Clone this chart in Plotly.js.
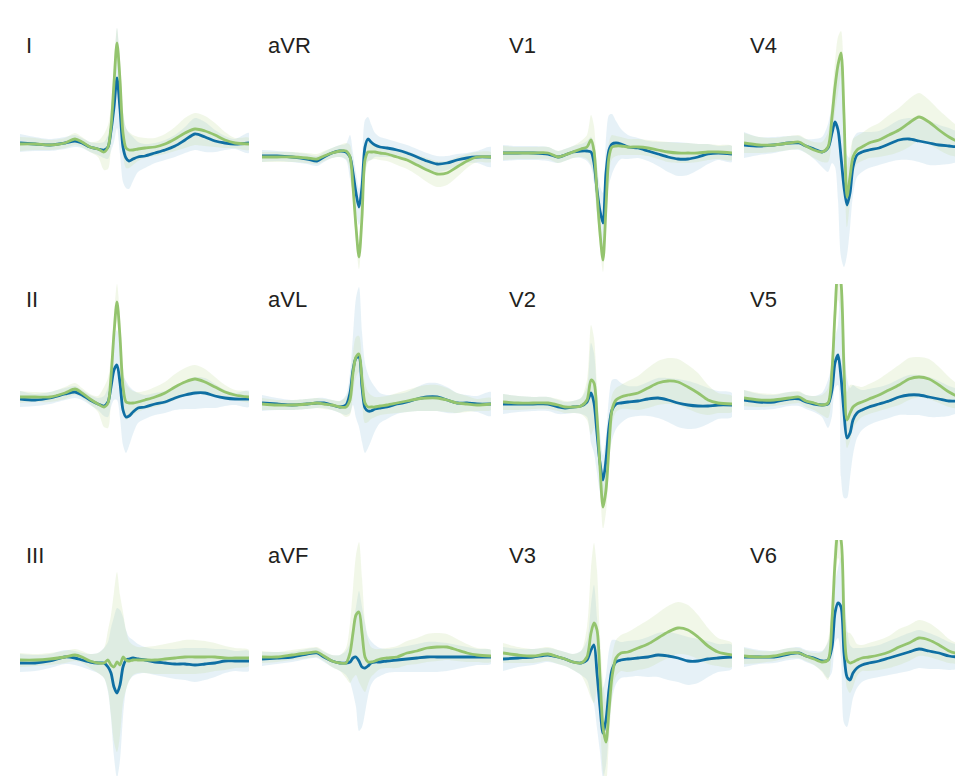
<!DOCTYPE html>
<html>
<head>
<meta charset="utf-8">
<script src="https://cdn.plot.ly/plotly-3.0.1.min.js"></script>
<style>html,body{margin:0;padding:0;background:#fff;}#chart{width:955px;height:776px;}</style>
</head>
<body>
<div id="chart"></div>
<script>
// time grid (ms) shared by every lead
const timeMs = [0,60,120,180,220,248,280,312,336,352,364,376,388,400,412,424,436,452,472,500,540,580,620,660,700,740,780,820,860,916];

// lead names in grid order (row-major, 3 rows x 4 columns)
const leadNames = ['I','aVR','V1','V4','II','aVL','V2','V5','III','aVF','V3','V6'];

// mean waveforms (mV): blue group and green group
const blue_I   = [0.02,0.01,0.0,0.02,0.04,0.02,-0.02,-0.04,-0.05,-0.02,0.14,0.38,0.67,0.36,-0.02,-0.13,-0.16,-0.14,-0.12,-0.11,-0.08,-0.05,-0.01,0.05,0.11,0.08,0.04,0.02,0.01,0.02];
const green_I  = [0.01,0.01,0,0.02,0.06,0.03,-0.02,-0.04,-0.07,-0.02,0.18,0.62,1.02,0.65,0.12,-0.03,-0.05,-0.05,-0.04,-0.03,-0.02,0.01,0.06,0.12,0.16,0.14,0.10,0.05,0.02,0.01];
const blue_aVR = [-0.11,-0.11,-0.12,-0.14,-0.16,-0.12,-0.08,-0.06,-0.07,-0.12,-0.28,-0.48,-0.62,-0.42,-0.02,0.06,0.03,0,-0.02,-0.03,-0.05,-0.08,-0.12,-0.16,-0.19,-0.18,-0.15,-0.13,-0.12,-0.12];
const green_aVR= [-0.12,-0.12,-0.12,-0.13,-0.14,-0.11,-0.08,-0.06,-0.06,-0.12,-0.42,-0.82,-1.12,-0.72,-0.15,-0.07,-0.07,-0.07,-0.08,-0.09,-0.12,-0.15,-0.2,-0.25,-0.29,-0.28,-0.22,-0.16,-0.12,-0.12];
const blue_V1  = [-0.08,-0.08,-0.08,-0.09,-0.12,-0.1,-0.07,-0.06,-0.06,-0.07,-0.18,-0.45,-0.66,-0.78,-0.28,-0.05,0.01,0.02,0.01,-0.02,-0.03,-0.06,-0.09,-0.12,-0.14,-0.14,-0.12,-0.09,-0.08,-0.09];
const green_V1 = [-0.08,-0.08,-0.08,-0.08,-0.12,-0.1,-0.07,-0.04,-0.02,0.05,-0.06,-0.48,-0.88,-1.15,-0.62,-0.12,-0.02,-0.01,-0.01,-0.02,-0.02,-0.03,-0.05,-0.07,-0.08,-0.08,-0.08,-0.07,-0.07,-0.08];
const blue_V4  = [0,-0.01,0,0.02,0.02,-0.01,-0.04,-0.07,-0.03,0.12,0.23,0.15,-0.12,-0.42,-0.6,-0.48,-0.22,-0.1,-0.07,-0.05,-0.03,0.01,0.05,0.06,0.04,0.02,0,-0.01,-0.02,-0.02];
const green_V4 = [0.02,0,0,0.02,0.03,-0.01,-0.05,-0.07,-0.02,0.28,0.58,0.8,0.92,0.3,-0.52,-0.32,-0.12,-0.05,-0.02,0.02,0.05,0.1,0.15,0.22,0.28,0.23,0.15,0.08,0.03,0];
const blue_II  = [0.02,0.01,0.03,0.07,0.09,0.06,0.01,-0.03,-0.05,-0.01,0.14,0.31,0.36,0.18,-0.09,-0.16,-0.15,-0.11,-0.07,-0.06,-0.03,-0.01,0.03,0.06,0.08,0.08,0.05,0.03,0.02,0.02];
const green_II = [0.04,0.04,0.04,0.08,0.12,0.08,0.02,-0.03,-0.06,-0.02,0.24,0.68,0.99,0.64,0.14,-0.01,-0.02,-0.02,-0.01,0.01,0.04,0.08,0.14,0.19,0.22,0.19,0.14,0.09,0.06,0.04];
const blue_aVL = [-0.02,-0.03,-0.04,-0.03,-0.02,-0.02,-0.04,-0.06,-0.04,0.08,0.31,0.43,0.44,0.14,-0.07,-0.1,-0.1,-0.08,-0.07,-0.06,-0.03,-0.01,0.02,0.04,0.04,0.01,-0.02,-0.02,-0.03,-0.03];
const green_aVL= [-0.03,-0.04,-0.04,-0.03,-0.02,-0.03,-0.04,-0.06,-0.06,0.01,0.28,0.44,0.47,0.21,-0.02,-0.06,-0.06,-0.06,-0.05,-0.04,-0.02,0,0.02,0.03,0.03,0.01,-0.02,-0.03,-0.04,-0.03];
const blue_V2  = [-0.03,-0.03,-0.03,-0.03,-0.06,-0.07,-0.06,-0.05,-0.01,0.08,-0.02,-0.32,-0.62,-0.79,-0.59,-0.26,-0.09,-0.03,-0.02,-0.01,0,0.02,0.03,0.01,-0.02,-0.04,-0.05,-0.05,-0.04,-0.04];
const green_V2 = [-0.01,-0.02,-0.02,-0.02,-0.04,-0.06,-0.06,-0.05,0.01,0.21,0.18,-0.16,-0.66,-1.06,-0.89,-0.46,-0.09,0.01,0.04,0.06,0.08,0.13,0.18,0.2,0.19,0.14,0.08,0.01,-0.02,-0.03];
const blue_V5  = [0.01,-0.01,-0.01,0.02,0.02,-0.01,-0.03,-0.04,-0.03,0.11,0.38,0.46,0.24,-0.12,-0.37,-0.32,-0.19,-0.12,-0.09,-0.06,-0.03,0,0.04,0.06,0.06,0.04,0.02,0,0,0];
const green_V5 = [0.03,0.01,0.01,0.03,0.04,0,-0.02,-0.04,-0.02,0.31,0.88,1.31,1.18,0.31,-0.19,-0.12,-0.06,-0.03,-0.01,0.02,0.06,0.11,0.16,0.22,0.24,0.22,0.16,0.09,0.04,0.01];
const blue_III = [-0.06,-0.06,-0.04,0,-0.01,-0.03,-0.05,-0.06,-0.06,-0.1,-0.16,-0.3,-0.36,-0.28,-0.1,-0.03,-0.02,-0.01,-0.02,-0.03,-0.05,-0.06,-0.07,-0.07,-0.08,-0.07,-0.06,-0.04,-0.04,-0.04];
const green_III= [-0.03,-0.03,-0.02,0,0.02,0,-0.04,-0.06,-0.06,-0.03,-0.08,-0.1,-0.05,-0.08,0,-0.03,-0.04,-0.03,-0.03,-0.03,-0.03,-0.02,-0.01,0,0,0,0,-0.01,-0.01,-0.01];
const blue_aVF = [-0.02,-0.01,0,0.03,0.04,0,-0.04,-0.06,-0.06,-0.05,-0.01,0,-0.04,-0.1,-0.11,-0.09,-0.06,-0.05,-0.05,-0.04,-0.03,-0.02,-0.01,0,0,0,0,0,0,0];
const green_aVF= [0,0,0.02,0.04,0.05,0.01,-0.04,-0.06,-0.06,0.04,0.24,0.42,0.45,0.24,0,-0.05,-0.05,-0.04,-0.02,-0.01,0,0.04,0.06,0.09,0.1,0.1,0.07,0.04,0.02,0.01];
const blue_V3  = [-0.02,-0.01,0,0.02,0,-0.02,-0.05,-0.06,-0.03,0.07,0.12,-0.16,-0.5,-0.76,-0.63,-0.33,-0.13,-0.05,-0.03,-0.02,-0.01,0,0.02,0.01,-0.01,-0.04,-0.04,-0.02,-0.01,0];
const green_V3 = [0.04,0.02,0.01,0.03,0,-0.02,-0.05,-0.06,0,0.24,0.34,0.27,-0.2,-0.7,-0.85,-0.53,-0.2,-0.01,0.04,0.05,0.09,0.13,0.19,0.25,0.29,0.27,0.2,0.11,0.05,0.02];
const blue_V6  = [0,0,0,0.03,0.04,0.01,-0.01,-0.04,-0.03,0.1,0.44,0.54,0.5,0.04,-0.2,-0.23,-0.16,-0.11,-0.08,-0.06,-0.04,-0.01,0.02,0.05,0.08,0.06,0.04,0.01,0,0];
const green_V6 = [0.01,0,0.01,0.04,0.04,0.01,-0.02,-0.05,-0.03,0.37,0.94,1.24,1.17,0.37,-0.03,-0.06,-0.05,-0.03,-0.01,0,0.02,0.05,0.1,0.14,0.19,0.17,0.12,0.06,0.03,0.01];

// spread (half-width of shaded band, mV)
const sdBlue_I   = [0.09,0.07,0.06,0.06,0.06,0.05,0.05,0.06,0.08,0.12,0.2,0.35,0.5,0.45,0.35,0.3,0.28,0.22,0.15,0.12,0.1,0.1,0.11,0.13,0.16,0.15,0.11,0.07,0.05,0.1];
const sdGreen_I  = [0.07,0.06,0.05,0.05,0.06,0.05,0.05,0.08,0.18,0.22,0.2,0.2,0.15,0.2,0.22,0.2,0.18,0.15,0.12,0.1,0.09,0.1,0.12,0.15,0.16,0.15,0.12,0.08,0.05,0.06];
const sdBlue_aVR = [0.06,0.05,0.05,0.05,0.05,0.05,0.05,0.06,0.08,0.22,0.2,0.2,0.18,0.25,0.27,0.22,0.18,0.12,0.1,0.09,0.08,0.08,0.08,0.08,0.08,0.07,0.06,0.05,0.06,0.1];
const sdGreen_aVR= [0.05,0.05,0.05,0.05,0.05,0.05,0.05,0.06,0.08,0.12,0.15,0.15,0.12,0.15,0.15,0.1,0.08,0.07,0.07,0.07,0.08,0.09,0.1,0.12,0.13,0.12,0.1,0.07,0.05,0.05];
const sdBlue_V1  = [0.08,0.07,0.07,0.07,0.06,0.06,0.06,0.07,0.1,0.15,0.2,0.25,0.25,0.3,0.35,0.35,0.3,0.22,0.15,0.12,0.1,0.1,0.12,0.15,0.17,0.16,0.13,0.1,0.07,0.08];
const sdGreen_V1 = [0.07,0.06,0.06,0.06,0.06,0.06,0.06,0.08,0.12,0.25,0.25,0.2,0.15,0.12,0.15,0.15,0.12,0.1,0.09,0.08,0.08,0.08,0.09,0.1,0.1,0.1,0.09,0.08,0.07,0.07];
const sdBlue_V4  = [0.13,0.09,0.08,0.07,0.07,0.07,0.1,0.15,0.24,0.3,0.45,0.7,1.0,0.8,0.5,0.35,0.28,0.22,0.2,0.18,0.17,0.18,0.2,0.21,0.21,0.22,0.2,0.18,0.15,0.15];
const sdGreen_V4 = [0.1,0.08,0.07,0.07,0.07,0.07,0.08,0.1,0.15,0.2,0.25,0.28,0.22,0.3,0.3,0.25,0.18,0.14,0.14,0.15,0.17,0.2,0.22,0.24,0.24,0.22,0.2,0.18,0.15,0.12];
const sdBlue_II  = [0.08,0.06,0.06,0.06,0.06,0.05,0.05,0.06,0.1,0.15,0.2,0.3,0.35,0.35,0.35,0.36,0.3,0.22,0.15,0.12,0.11,0.11,0.12,0.14,0.16,0.15,0.12,0.08,0.06,0.08];
const sdGreen_II = [0.06,0.05,0.05,0.06,0.06,0.05,0.05,0.08,0.2,0.25,0.2,0.18,0.18,0.2,0.2,0.18,0.15,0.12,0.1,0.09,0.1,0.11,0.13,0.14,0.14,0.13,0.1,0.07,0.05,0.05];
const sdBlue_aVL = [0.08,0.06,0.05,0.05,0.05,0.05,0.05,0.06,0.1,0.2,0.35,0.6,0.7,0.55,0.45,0.37,0.3,0.22,0.15,0.12,0.1,0.1,0.12,0.14,0.14,0.13,0.1,0.08,0.08,0.12];
const sdGreen_aVL= [0.06,0.05,0.05,0.05,0.05,0.05,0.05,0.06,0.1,0.15,0.2,0.2,0.18,0.2,0.2,0.15,0.12,0.1,0.09,0.09,0.1,0.11,0.12,0.13,0.13,0.12,0.1,0.08,0.06,0.06];
const sdBlue_V2  = [0.1,0.08,0.07,0.07,0.07,0.06,0.06,0.08,0.15,0.5,0.5,0.4,0.3,0.25,0.25,0.3,0.3,0.25,0.2,0.16,0.15,0.17,0.2,0.22,0.24,0.24,0.22,0.18,0.14,0.12];
const sdGreen_V2 = [0.08,0.07,0.06,0.06,0.06,0.06,0.06,0.08,0.2,0.55,0.45,0.3,0.22,0.22,0.22,0.2,0.15,0.12,0.12,0.14,0.17,0.2,0.22,0.23,0.23,0.22,0.2,0.15,0.1,0.08];
const sdBlue_V5  = [0.1,0.08,0.07,0.07,0.07,0.07,0.08,0.12,0.24,0.26,0.25,0.3,1.0,0.85,0.6,0.45,0.35,0.25,0.2,0.18,0.17,0.17,0.18,0.2,0.2,0.2,0.18,0.15,0.12,0.12];
const sdGreen_V5 = [0.08,0.07,0.06,0.06,0.06,0.06,0.07,0.1,0.15,0.2,0.25,0.3,0.3,0.3,0.28,0.28,0.22,0.18,0.15,0.15,0.16,0.18,0.2,0.21,0.2,0.2,0.18,0.15,0.12,0.1];
const sdBlue_III = [0.09,0.08,0.07,0.07,0.07,0.07,0.08,0.1,0.15,0.25,0.45,0.7,0.85,0.75,0.5,0.3,0.22,0.18,0.15,0.13,0.13,0.14,0.15,0.16,0.17,0.16,0.14,0.12,0.1,0.1];
const sdGreen_III= [0.07,0.06,0.06,0.06,0.06,0.06,0.07,0.1,0.15,0.3,0.5,0.75,0.9,0.7,0.45,0.3,0.2,0.15,0.13,0.13,0.14,0.15,0.16,0.17,0.17,0.16,0.14,0.12,0.1,0.08];
const sdBlue_aVF = [0.07,0.06,0.05,0.05,0.05,0.05,0.06,0.08,0.12,0.2,0.35,0.5,0.7,0.6,0.45,0.3,0.22,0.17,0.14,0.12,0.12,0.13,0.14,0.15,0.15,0.14,0.12,0.1,0.08,0.07];
const sdGreen_aVF= [0.06,0.05,0.05,0.05,0.05,0.05,0.06,0.08,0.15,0.3,0.45,0.6,0.7,0.55,0.35,0.22,0.15,0.12,0.1,0.1,0.11,0.12,0.13,0.14,0.14,0.13,0.11,0.09,0.07,0.06];
const sdBlue_V3  = [0.12,0.09,0.08,0.07,0.07,0.07,0.08,0.12,0.2,0.45,0.6,0.55,0.45,0.45,0.45,0.4,0.3,0.22,0.18,0.18,0.18,0.2,0.22,0.24,0.24,0.24,0.22,0.18,0.14,0.12];
const sdGreen_V3 = [0.1,0.08,0.07,0.07,0.07,0.07,0.08,0.12,0.3,0.65,0.8,0.6,0.4,0.45,0.4,0.3,0.2,0.18,0.18,0.2,0.22,0.24,0.25,0.26,0.26,0.25,0.22,0.18,0.14,0.12];
const sdBlue_V6  = [0.1,0.07,0.06,0.06,0.06,0.06,0.07,0.1,0.18,0.25,0.3,0.35,0.5,0.7,0.5,0.35,0.25,0.2,0.17,0.16,0.16,0.17,0.18,0.19,0.19,0.18,0.16,0.14,0.12,0.1];
const sdGreen_V6 = [0.08,0.06,0.05,0.05,0.05,0.05,0.06,0.1,0.2,0.3,0.3,0.25,0.25,0.3,0.28,0.3,0.25,0.16,0.13,0.14,0.15,0.16,0.18,0.18,0.18,0.17,0.15,0.12,0.1,0.08];

const blueMeans  = [blue_I, blue_aVR, blue_V1, blue_V4, blue_II, blue_aVL, blue_V2, blue_V5, blue_III, blue_aVF, blue_V3, blue_V6];
const greenMeans = [green_I, green_aVR, green_V1, green_V4, green_II, green_aVL, green_V2, green_V5, green_III, green_aVF, green_V3, green_V6];
const blueSds    = [sdBlue_I, sdBlue_aVR, sdBlue_V1, sdBlue_V4, sdBlue_II, sdBlue_aVL, sdBlue_V2, sdBlue_V5, sdBlue_III, sdBlue_aVF, sdBlue_V3, sdBlue_V6];
const greenSds   = [sdGreen_I, sdGreen_aVR, sdGreen_V1, sdGreen_V4, sdGreen_II, sdGreen_aVL, sdGreen_V2, sdGreen_V5, sdGreen_III, sdGreen_aVF, sdGreen_V3, sdGreen_V6];

// ---- layout geometry (pixels) ----
const W = 955, H = 776;
const colLeft = [20, 262, 503, 744];
const colWidth = 229;
const rowTop = [28, 284, 540];
const rowHeight = 244;
const pxPerMs = 0.25;     // 4 ms per pixel
const pxPerMv = 100;      // 100 px per mV
const baselinePx = [145, 401, 657];

const BLUE = '#0f6fa3', GREEN = '#94c46e';
const BLUE_BAND = 'rgba(150,196,222,0.24)', GREEN_BAND = 'rgba(196,220,160,0.24)';

const traces = [];
const layout = {
  width: W, height: H,
  margin: {l:0, r:0, t:0, b:0},
  paper_bgcolor: '#ffffff', plot_bgcolor: 'rgba(0,0,0,0)',
  showlegend: false,
  annotations: []
};

function bandTrace(mean, sd, color, ax) {
  const up = mean.map((v,i)=>v+sd[i]);
  const lo = mean.map((v,i)=>v-sd[i]);
  return {
    x: timeMs.concat(timeMs.slice().reverse()),
    y: up.concat(lo.slice().reverse()),
    type: 'scatter', mode: 'lines', fill: 'toself', fillcolor: color,
    line: {width: 0, shape: 'spline', smoothing: 0.8, color: 'rgba(0,0,0,0)'},
    hoverinfo: 'skip', xaxis: 'x'+ax.s, yaxis: 'y'+ax.s
  };
}
function lineTrace(mean, color, ax) {
  return {
    x: timeMs, y: mean, type: 'scatter', mode: 'lines',
    line: {color: color, width: 2.8, shape: 'spline', smoothing: 0.8},
    hoverinfo: 'skip', xaxis: 'x'+ax.s, yaxis: 'y'+ax.s
  };
}

leadNames.forEach((name, i) => {
  const r = Math.floor(i/4), c = i % 4;
  const n = i + 1;
  const s = n === 1 ? '' : String(n);
  const ax = {s: s};
  const x0 = colLeft[c], x1 = Math.min(x0 + colWidth, W);
  const y0 = rowTop[r], y1 = Math.min(y0 + rowHeight, H);
  const xKey = 'xaxis' + s, yKey = 'yaxis' + s;
  layout[xKey] = {
    domain: [x0/W, x1/W], range: [0, (x1-x0)/pxPerMs],
    visible: false, showgrid: false, zeroline: false, fixedrange: true,
    anchor: 'y' + s
  };
  layout[yKey] = {
    domain: [1 - y1/H, 1 - y0/H],
    range: [(baselinePx[r]-y1)/pxPerMv, (baselinePx[r]-y0)/pxPerMv],
    visible: false, showgrid: false, zeroline: false, fixedrange: true,
    anchor: 'x' + s
  };
  traces.push(bandTrace(blueMeans[i], blueSds[i], BLUE_BAND, ax));
  traces.push(bandTrace(greenMeans[i], greenSds[i], GREEN_BAND, ax));
  traces.push(lineTrace(blueMeans[i], BLUE, ax));
  traces.push(lineTrace(greenMeans[i], GREEN, ax));

  layout.annotations.push({
    text: name, xref: 'paper', yref: 'paper',
    x: (x0 + 4)/W, y: 1 - (45 + 255*r)/H,
    xanchor: 'left', yanchor: 'middle', showarrow: false,
    font: {family: 'Liberation Sans, Arial, sans-serif', size: 22, color: '#231f20'}
  });
});

Plotly.newPlot('chart', traces, layout, {displayModeBar: false, staticPlot: true});
</script>
</body>
</html>
